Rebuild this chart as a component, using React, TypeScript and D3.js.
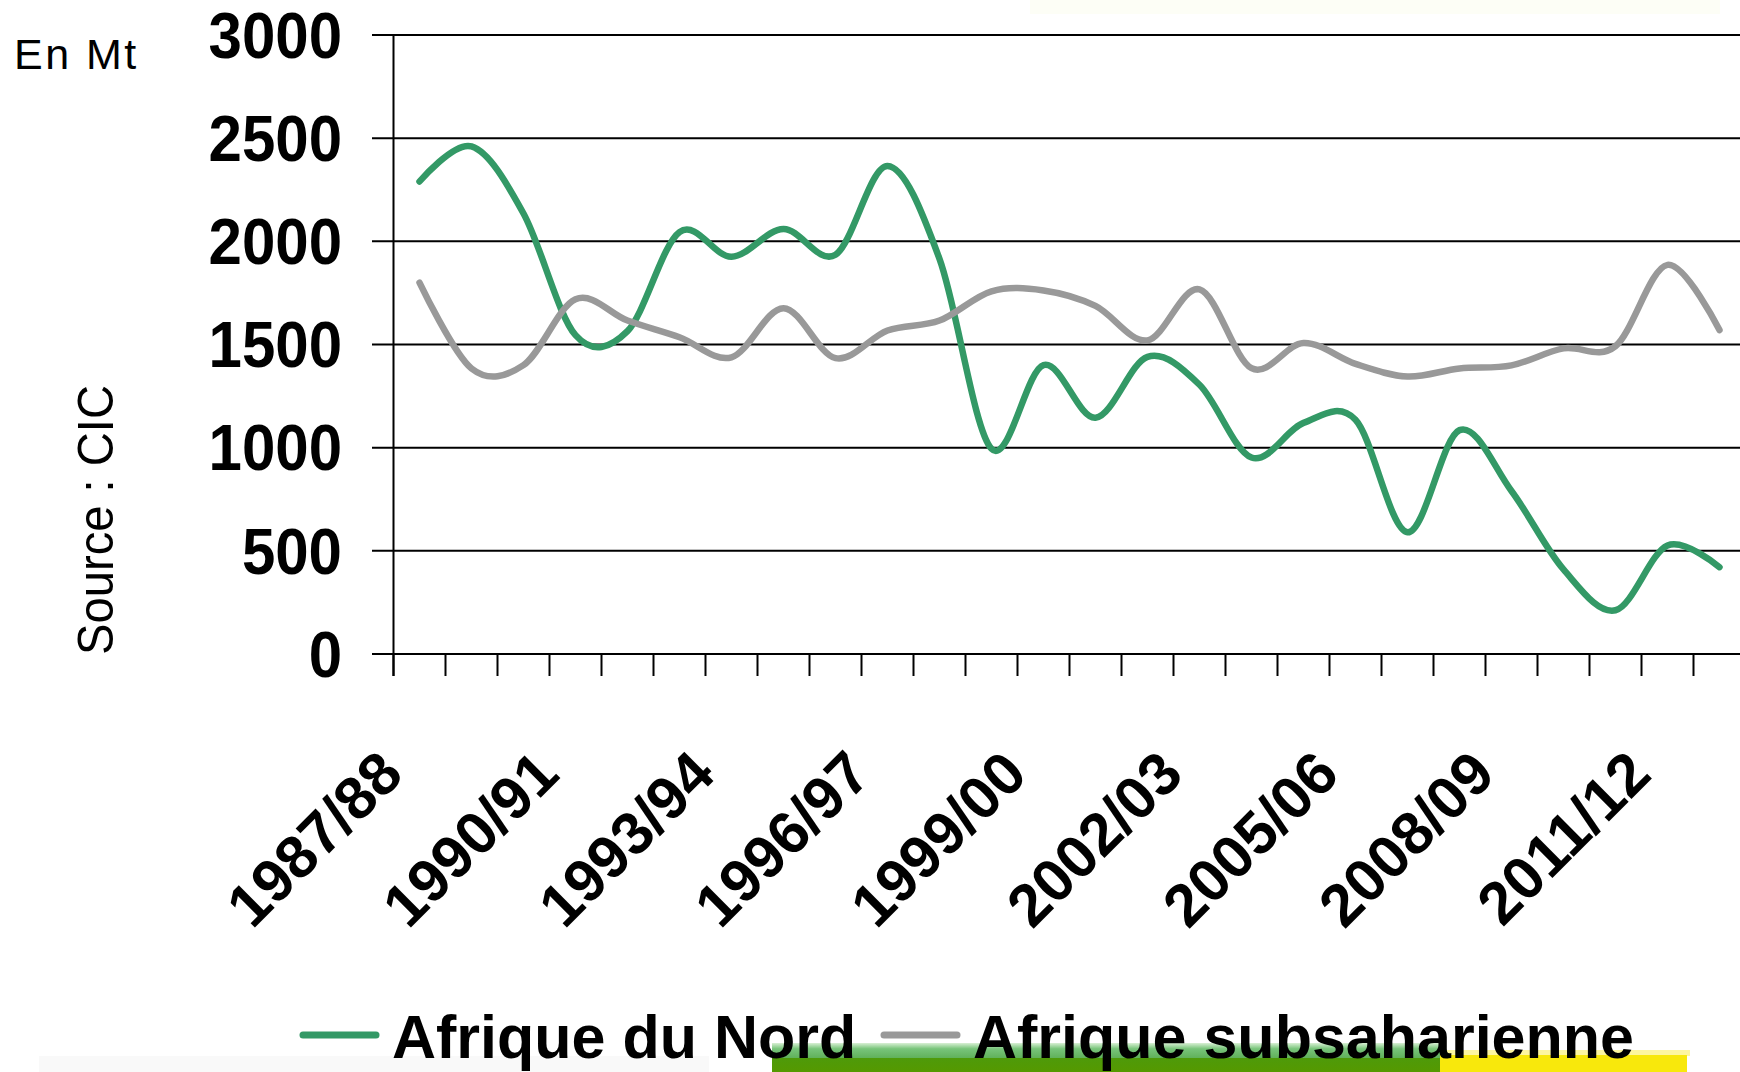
import React from "react";
import * as d3 from "d3";

const categories = [
  "1987/88","1988/89","1989/90","1990/91","1991/92","1992/93","1993/94","1994/95",
  "1995/96","1996/97","1997/98","1998/99","1999/00","2000/01","2001/02","2002/03",
  "2003/04","2004/05","2005/06","2006/07","2007/08","2008/09","2009/10","2010/11",
  "2011/12","2012/13",
];
const afriqueNord = [
  2290, 2460, 2135, 1545, 1565, 2045, 1925, 2060, 1935, 2365, 1915, 995, 1400,
  1145, 1440, 1305, 952, 1120, 1135, 590, 1085, 790, 410, 212, 526, 421,
];
const afriqueSub = [
  1800, 1384, 1400, 1719, 1616, 1535, 1438, 1676, 1434, 1568, 1616, 1758, 1762,
  1687, 1520, 1767, 1385, 1507, 1406, 1345, 1384, 1399, 1481, 1492, 1886, 1570,
];
const yTicks = [0, 500, 1000, 1500, 2000, 2500, 3000];
const labelEvery = 3;
const seriesNames = ["Afrique du Nord", "Afrique subsaharienne"];
const seriesColors = ["#339966", "#999999"];

const W = 1740;
const H = 1072;
const axisX = 393.5;
const step = 52;
const yTop = 35;
const yBottom = 654;
const FONT = "'Liberation Sans', Arial, Helvetica, sans-serif";

export default function App() {
  const x = d3
    .scaleBand<string>()
    .domain(categories)
    .range([axisX, axisX + step * categories.length])
    .paddingInner(0)
    .paddingOuter(0);
  const y = d3.scaleLinear().domain([0, 3000]).range([yBottom, yTop]);
  const cx = (c: string) => (x(c) as number) + x.bandwidth() / 2;

  const line = d3
    .line<number>()
    .x((_, i) => cx(categories[i]))
    .y((v) => y(v))
    .curve(d3.curveCardinal.tension(0));

  const series = [afriqueNord, afriqueSub];

  return (
    <svg
      width={W}
      height={H}
      viewBox={`0 0 ${W} ${H}`}
      style={{ position: "absolute", left: 0, top: 0, background: "#fff" }}
    >
      <defs>
        <linearGradient id="gbar" x1="0" y1="0" x2="0" y2="1">
          <stop offset="0" stopColor="#d8f0d4" />
          <stop offset="0.2" stopColor="#78c47a" />
          <stop offset="0.5" stopColor="#62b25c" />
          <stop offset="0.52" stopColor="#4e9a0a" />
          <stop offset="1" stopColor="#559900" />
        </linearGradient>
      </defs>
      <rect x={0} y={0} width={W} height={H} fill="#fff" />
      {/* faint decorations */}
      <rect x={1030} y={0} width={690} height={14} fill="#fdfef6" />
      <rect x={39} y={1056} width={670} height={16} fill="#f9f9f9" />
      <rect x={772} y={1043} width={668} height={29} fill="url(#gbar)" />
      <rect x={1440} y={1050} width={250} height={6} fill="#fdf6a0" />
      <rect x={1440} y={1055} width={247} height={17} fill="#f8e80c" />

      {/* gridlines */}
      {yTicks.map((t) => (
        <line
          key={"g" + t}
          x1={372}
          x2={W}
          y1={y(t)}
          y2={y(t)}
          stroke="#000"
          strokeWidth={2}
        />
      ))}
      {/* y axis */}
      <line x1={axisX} x2={axisX} y1={yTop} y2={yBottom + 22} stroke="#000" strokeWidth={2} />
      {/* x ticks */}
      {categories.map((c) => (
        <line
          key={"t" + c}
          x1={x(c) as number}
          x2={x(c) as number}
          y1={yBottom}
          y2={yBottom + 22}
          stroke="#000"
          strokeWidth={2}
        />
      ))}
      {/* y labels */}
      {yTicks.map((t) => (
        <text
          key={"yl" + t}
          transform={`translate(342,${y(t)}) scale(1,1.08)`}
          textAnchor="end"
          dominantBaseline="central"
          fontFamily={FONT}
          fontWeight="bold"
          fontSize={60}
          fill="#000"
        >
          {t}
        </text>
      ))}
      {/* x labels */}
      {categories.map((c, i) =>
        i % labelEvery === 0 ? (
          <text
            key={"xl" + c}
            transform={`translate(${cx(c) - 14},777) rotate(-45)`}
            textAnchor="end"
            fontFamily={FONT}
            fontWeight="bold"
            fontSize={60}
            fill="#000"
          >
            {c}
          </text>
        ) : null
      )}
      {/* series */}
      {series.map((s, k) => (
        <path
          key={"s" + k}
          d={line(s) as string}
          fill="none"
          stroke={seriesColors[k]}
          strokeWidth={6.5}
          strokeLinejoin="round"
          strokeLinecap="round"
        />
      ))}
      {/* unit + source */}
      <text x={14} y={69} fontFamily={FONT} fontSize={43} letterSpacing={2.5} fill="#000">
        En Mt
      </text>
      <text
        transform="translate(113,655) rotate(-90)"
        fontFamily={FONT}
        fontSize={50}
        textLength={270}
        lengthAdjust="spacingAndGlyphs"
        fill="#000"
      >
        Source : CIC
      </text>
      {/* legend */}
      {seriesNames.map((n, k) => {
        const lx = k === 0 ? 303 : 884;
        return (
          <g key={"lg" + k}>
            <line
              x1={lx}
              x2={lx + 73}
              y1={1035}
              y2={1035}
              stroke={seriesColors[k]}
              strokeWidth={7}
              strokeLinecap="round"
            />
            <text
              x={lx + 89}
              y={1058}
              fontFamily={FONT}
              fontWeight="bold"
              fontSize={61}
              fill="#000"
            >
              {n}
            </text>
          </g>
        );
      })}
    </svg>
  );
}
